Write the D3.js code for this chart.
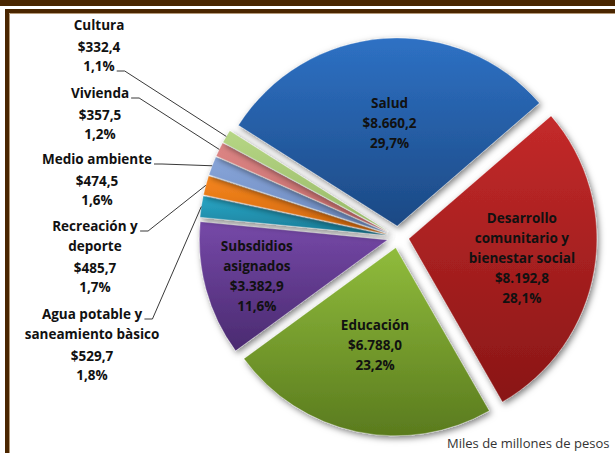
<!DOCTYPE html>
<html>
<head>
<meta charset="utf-8">
<script src="https://cdn.jsdelivr.net/npm/d3@7"></script>
<style>
  html, body { margin: 0; padding: 0; background: #fff; }
  svg { display: block; }
</style>
</head>
<body>
<script>
// ---- data ----
const categories = ["Salud", "Desarrollo comunitario y bienestar social", "Educación", "Subsdidios asignados",
  "Agua potable y saneamiento bàsico", "Recreación y deporte", "Medio ambiente", "Vivienda", "Cultura"];
const values = [8660.2, 8192.8, 6788.0, 3382.9, 529.7, 485.7, 474.5, 357.5, 332.4];
const valueLabels = ["$8.660,2", "$8.192,8", "$6.788,0", "$3.382,9", "$529,7", "$485,7", "$474,5", "$357,5", "$332,4"];
const percentLabels = ["29,7%", "28,1%", "23,2%", "11,6%", "1,8%", "1,7%", "1,6%", "1,2%", "1,1%"];
const nameLines = [["Salud"], ["Desarrollo", "comunitario y", "bienestar social"], ["Educación"], ["Subsdidios", "asignados"],
  ["Agua potable y", "saneamiento bàsico"], ["Recreación y", "deporte"], ["Medio ambiente"], ["Vivienda"], ["Cultura"]];
const unitNote = "Miles de millones de pesos";

// ---- styles ----
const topColors = ["#2e71c4", "#c42a2a", "#90bc3c", "#7649a8", "#29a8c8", "#f7871f", "#89a6da", "#de8786", "#b6d685"];
const bottomColors = ["#1c4984", "#891616", "#5a7b1e", "#4a2a70", "#1b7b96", "#cf650b", "#6a88bd", "#c06666", "#97b866"];
const insideRadius = [0.55, 0.61, 0.53, 0.72];
// outside label anchors (center x, first line y) for slices 4..8
const outsideAnchor = { 4: [92, 314], 5: [95, 226], 6: [97, 159], 7: [100, 93], 8: [99, 25] };
const leaderLineIdx = { 4: 0, 5: 0, 6: 0, 7: 0, 8: 2 };
const FS = 13.5, FW = 700;

const W = 615, H = 453;
const cx = 398, cy = 237, R = 188, explode = 11;
const startA = -57.6 * Math.PI / 180;

const svg = d3.select("body").append("svg").attr("width", W).attr("height", H)
  .style("font-family", "'Open Sans', 'DejaVu Sans', sans-serif");

const defs = svg.append("defs");
const f = defs.append("filter").attr("id", "sh").attr("x", "-20%").attr("y", "-20%").attr("width", "140%").attr("height", "140%");
f.append("feDropShadow").attr("dx", 2).attr("dy", 2.5).attr("stdDeviation", 3)
  .attr("flood-color", "#000").attr("flood-opacity", 0.5);
values.forEach((v, i) => {
  const g = defs.append("linearGradient").attr("id", "g" + i).attr("x1", 0).attr("y1", 0).attr("x2", 0).attr("y2", 1);
  g.append("stop").attr("offset", "0%").attr("stop-color", topColors[i]);
  g.append("stop").attr("offset", "100%").attr("stop-color", bottomColors[i]);
});

// frame
svg.append("rect").attr("x", 0).attr("y", 0).attr("width", W).attr("height", 6).attr("fill", "#4a2600");
svg.append("rect").attr("x", 5).attr("y", 9).attr("width", W).attr("height", 4).attr("fill", "#4a2600");
svg.append("rect").attr("x", 5).attr("y", 9).attr("width", 4).attr("height", H).attr("fill", "#4a2600");
svg.append("line").attr("x1", 9.5).attr("y1", 13.5).attr("x2", W).attr("y2", 13.5).attr("stroke", "#b59a7a").attr("stroke-width", 1);
svg.append("line").attr("x1", 9.5).attr("y1", 13.5).attr("x2", 9.5).attr("y2", H).attr("stroke", "#b59a7a").attr("stroke-width", 1);

const pie = d3.pie().sort(null).value(d => d).startAngle(startA).endAngle(startA + 2 * Math.PI);
const arcs = pie(values);
const arc = d3.arc().innerRadius(0).outerRadius(R);

function offset(d, dist) {
  const m = (d.startAngle + d.endAngle) / 2;
  return [dist * Math.sin(m), -dist * Math.cos(m)];
}

const gPie = svg.append("g").attr("transform", `translate(${cx},${cy})`);
gPie.selectAll("path").data(arcs).enter().append("path")
  .attr("transform", d => { const o = offset(d, explode); return `translate(${o[0]},${o[1]})`; })
  .attr("d", arc)
  .attr("fill", (d, i) => `url(#g${i})`)
  .attr("stroke", "rgba(255,255,255,0.5)").attr("stroke-width", 0.6)
  .attr("filter", "url(#sh)");

// inside labels
arcs.slice(0, 4).forEach((d, i) => {
  const o = offset(d, explode);
  const p = offset(d, R * insideRadius[i]);
  const x = cx + o[0] + p[0], y = cy + o[1] + p[1];
  const lines = nameLines[i].concat([valueLabels[i], percentLabels[i]]);
  const n = lines.length, lh = 20;
  const t = svg.append("text").attr("text-anchor", "middle").attr("font-size", FS).attr("font-weight", FW).attr("fill", "#111");
  lines.forEach((s, k) => {
    t.append("tspan").attr("x", x).attr("y", y + (k - (n - 1) / 2) * lh).attr("dominant-baseline", "central").text(s);
  });
});

// outside labels with leader lines
arcs.forEach((d, i) => {
  if (i < 4) return;
  const [ax, ay] = outsideAnchor[i];
  const lines = nameLines[i];
  const ys = [];
  lines.forEach((s, k) => ys.push(ay + k * 20));
  ys.push(ys[ys.length - 1] + 22);
  ys.push(ys[ys.length - 1] + 19);
  const all = lines.concat([valueLabels[i], percentLabels[i]]);
  const nodes = [];
  all.forEach((s, k) => {
    const t = svg.append("text").attr("x", ax).attr("y", ys[k]).attr("dominant-baseline", "central")
      .attr("text-anchor", "middle").attr("font-size", FS).attr("font-weight", FW).attr("fill", "#111").text(s);
    nodes.push(t);
  });
  const li = leaderLineIdx[i];
  const bb = nodes[li].node().getBBox();
  const sx = bb.x + bb.width + 2, sy = ys[li] + 5;
  const o = offset(d, explode), p = offset(d, R);
  const ex = cx + o[0] + p[0], ey = cy + o[1] + p[1];
  svg.append("path").attr("d", d3.line()([[sx, sy], [sx + 8, sy], [ex, ey]]))
    .attr("fill", "none").attr("stroke", "#222").attr("stroke-width", 0.9);
});

svg.append("text").attr("x", 447).attr("y", 448).attr("font-size", 13).attr("fill", "#333").text(unitNote);
</script>
</body>
</html>
